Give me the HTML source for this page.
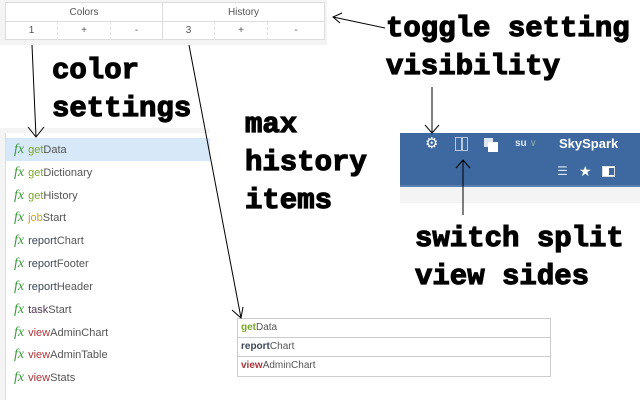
<!DOCTYPE html>
<html><head><meta charset="utf-8"><style>
*{margin:0;padding:0;box-sizing:border-box}
body{width:640px;height:400px;background:#fff;position:relative;overflow:hidden;font-family:"Liberation Sans",sans-serif}
.a{position:absolute}
.big{position:absolute;font-family:"Liberation Mono","DejaVu Sans Mono",monospace;font-weight:bold;font-size:29px;line-height:38px;color:#000;white-space:pre;-webkit-text-stroke:1.2px #000}
.tbl{position:absolute;left:5px;top:2px;width:320px;height:38px;border:1px solid #ddd;background:#fff;font-size:10px;color:#555}
.li{position:absolute;left:14px;font-size:11px;color:#555;height:23px;line-height:23px}
.fx{font-family:"Liberation Serif",serif;font-style:italic;color:#3a9a3a;font-size:14px;margin-right:4px}
.g{color:#7aa52a}.j{color:#c9a227}.r{color:#3b4856}.t{color:#4d3a52}.v{color:#a8363b}
.br{position:absolute;left:237px;width:314px;height:20px;border:1px solid #ccc;font-size:10px;line-height:18px;padding-left:3px;color:#555}
</style></head><body>
<div class="a" style="left:0;top:0;width:327px;height:45px;background:#f4f4f4"></div>
<div class="tbl">
 <div class="a" style="left:0;top:0;width:157px;height:19px;line-height:19px;text-align:center;border-bottom:1px solid #ddd;border-right:1px solid #ddd">Colors</div>
 <div class="a" style="left:157px;top:0;width:161px;height:19px;line-height:19px;text-align:center;border-bottom:1px solid #ddd">History</div>
 <div class="a" style="left:0;top:19px;width:52px;height:18px;line-height:18px;text-align:center;border-right:1px dashed #e2e2e2">1</div>
 <div class="a" style="left:52px;top:19px;width:53px;height:18px;line-height:18px;text-align:center;border-right:1px dashed #e2e2e2">+</div>
 <div class="a" style="left:105px;top:19px;width:52px;height:18px;line-height:18px;text-align:center;border-right:1px solid #ddd">-</div>
 <div class="a" style="left:157px;top:19px;width:52px;height:18px;line-height:18px;text-align:center;border-right:1px dashed #e2e2e2">3</div>
 <div class="a" style="left:209px;top:19px;width:53px;height:18px;line-height:18px;text-align:center;border-right:1px dashed #e2e2e2">+</div>
 <div class="a" style="left:262px;top:19px;width:56px;height:18px;line-height:18px;text-align:center">-</div>
</div>

<div class="a" style="left:0;top:128px;width:210px;height:272px;background:#f4f4f4"></div>
<div class="a" style="left:5px;top:133px;width:205px;height:267px;background:#fff;border-left:1px solid #ddd"></div>
<div class="a" style="left:6px;top:138px;width:204px;height:23px;background:#d7e8f9"></div>
<div class="li" style="top:138px"><span class="fx">fx</span><span class="g">get</span>Data</div>
<div class="li" style="top:161px"><span class="fx">fx</span><span class="g">get</span>Dictionary</div>
<div class="li" style="top:184px"><span class="fx">fx</span><span class="g">get</span>History</div>
<div class="li" style="top:206px"><span class="fx">fx</span><span class="j">job</span>Start</div>
<div class="li" style="top:229px"><span class="fx">fx</span><span class="r">report</span>Chart</div>
<div class="li" style="top:252px"><span class="fx">fx</span><span class="r">report</span>Footer</div>
<div class="li" style="top:275px"><span class="fx">fx</span><span class="r">report</span>Header</div>
<div class="li" style="top:298px"><span class="fx">fx</span><span class="t">task</span>Start</div>
<div class="li" style="top:321px"><span class="fx">fx</span><span class="v">view</span>AdminChart</div>
<div class="li" style="top:343px"><span class="fx">fx</span><span class="v">view</span>AdminTable</div>
<div class="li" style="top:366px"><span class="fx">fx</span><span class="v">view</span>Stats</div>

<div class="a" style="left:400px;top:133px;width:240px;height:52px;background:#3d69a0"></div>
<div class="a" style="left:400px;top:185px;width:240px;height:2px;background:#5a80b0"></div>
<div class="a" style="left:400px;top:187px;width:240px;height:16px;background:#f4f4f4"></div>
<div class="a" style="left:425px;top:134px;color:#fff;font-size:15px">⚙</div>
<div class="a" style="left:455px;top:137px;width:13px;height:14px;border:1.5px solid #b8c8e0"></div>
<div class="a" style="left:461px;top:137px;width:1.5px;height:14px;background:#b8c8e0"></div>
<div class="a" style="left:484px;top:138px;width:9px;height:9px;background:#dde6f2"></div>
<div class="a" style="left:488px;top:142px;width:10px;height:10px;background:#fff"></div>
<div class="a" style="left:515px;top:138px;color:#dde6f2;font-size:10px;font-weight:bold">su <span style="font-weight:normal;color:#8aa">∨</span></div>
<div class="a" style="left:559px;top:136px;color:#fff;font-size:13px;font-weight:bold">SkySpark</div>
<div class="a" style="left:557px;top:164px;color:#dde6f2;font-size:12px">☰</div>
<div class="a" style="left:579px;top:163px;color:#fff;font-size:14px">★</div>
<div class="a" style="left:602px;top:166px;width:13px;height:11px;background:#fff;border:1px solid #ddd"></div>
<div class="a" style="left:609px;top:168px;width:5px;height:7px;background:#3d69a0"></div>

<div class="br" style="top:318px"><span class="g" style="font-weight:bold">get</span>Data</div>
<div class="br" style="top:337px"><span class="r" style="font-weight:bold">report</span>Chart</div>
<div class="br" style="top:356px;height:21px"><span class="v" style="font-weight:bold">view</span>AdminChart</div>

<div class="big" style="left:386px;top:10px">toggle setting
visibility</div>
<div class="big" style="left:52px;top:52px">color
settings</div>
<div class="big" style="left:245px;top:106px">max
history
items</div>
<div class="big" style="left:415px;top:220px">switch split
view sides</div>

<svg class="a" style="left:0;top:0" width="640" height="400" fill="none" stroke="#000" stroke-width="1">
<line x1="32" y1="45" x2="36" y2="137"/><polyline points="28,127 36,137 44,127"/>
<line x1="189" y1="45" x2="241" y2="318"/><polyline points="232,310 241,318 243,307"/>
<line x1="385" y1="28" x2="333" y2="17"/><polyline points="342,13 333,17 340,23"/>
<line x1="432" y1="87" x2="432" y2="133"/><polyline points="425,125 432,133 439,125"/>
<line x1="463" y1="215" x2="463" y2="160"/><polyline points="456,168 463,160 470,168"/>
</svg>
</body></html>
